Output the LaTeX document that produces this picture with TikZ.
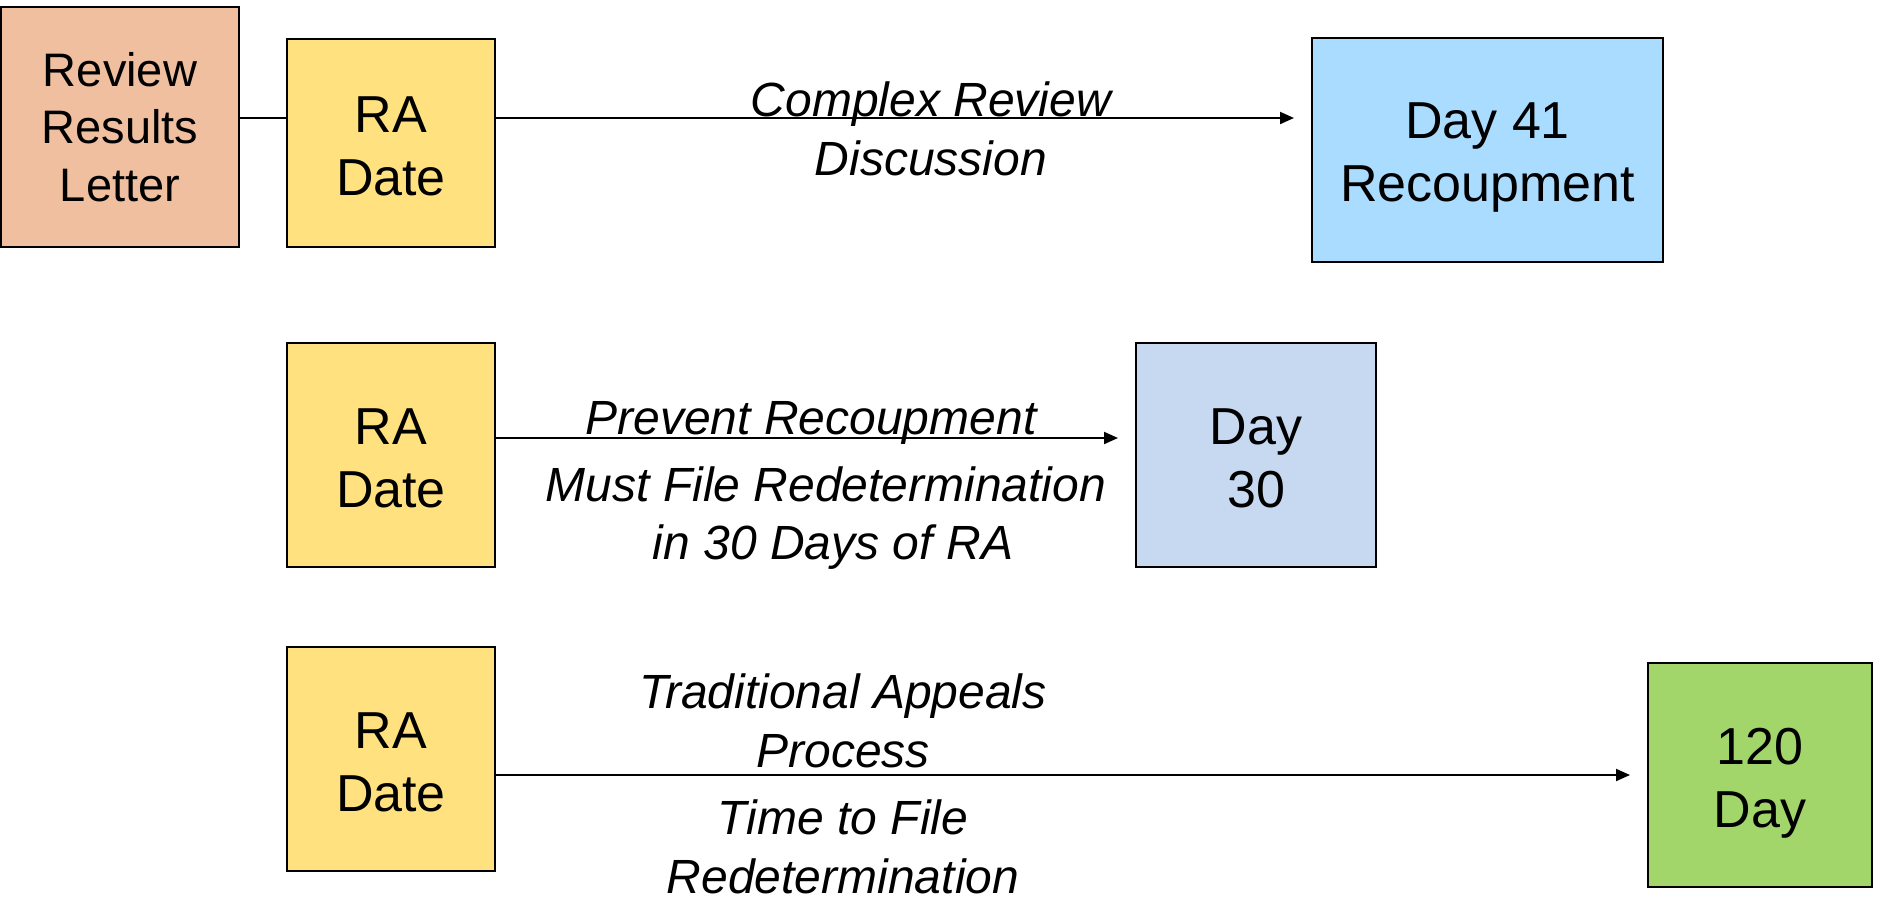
\documentclass[tikz,border=0pt]{standalone}
\usepackage{fontspec}
\setmainfont{Liberation Sans}
\usetikzlibrary{arrows.meta}
\definecolor{peach}{HTML}{F0BF9F}
\definecolor{rayellow}{HTML}{FFE27F}
\definecolor{skyblue}{HTML}{A9DCFF}
\definecolor{greyblue}{HTML}{C6D9F1}
\definecolor{leafgreen}{HTML}{A2D56A}
\newcommand{\dnstrut}[1]{\rule{0pt}{#1pt}}
\begin{document}
\begin{tikzpicture}[x=1pt,y=-1pt,
  box/.style={draw=black, line width=2pt, align=center, inner sep=0pt,
    font=\fontsize{52}{63}\selectfont},
  lbl/.style={align=center, inner sep=0pt, font=\fontsize{48}{58.5}\selectfont\itshape},
  conn/.style={line width=2pt},
  arr/.style={conn, -{Triangle[length=14pt,width=12pt]}, shorten >=17pt}]
\useasboundingbox (0,0) rectangle (1878,897);
\node[box, fill=peach, minimum width=238pt, minimum height=240pt,
  font=\fontsize{47}{57.5}\selectfont] (letter) at (120,127) {Review\\Results\\Letter};
\node[box, fill=rayellow, minimum width=208pt, minimum height=208pt] (ra1) at (391,143) {\dnstrut{43}RA\\Date};
\node[box, fill=rayellow, minimum width=208pt, minimum height=224pt] (ra2) at (391,455) {\dnstrut{43}RA\\Date};
\node[box, fill=rayellow, minimum width=208pt, minimum height=224pt] (ra3) at (391,759) {\dnstrut{43}RA\\Date};
\node[box, fill=skyblue, minimum width=351pt, minimum height=224pt] (d41) at (1487.5,150) {\dnstrut{50}Day 41\\Recoupment};
\node[box, fill=greyblue, minimum width=240pt, minimum height=224pt] (d30) at (1256,455) {\dnstrut{42}Day\\30};
\node[box, fill=leafgreen, minimum width=224pt, minimum height=224pt] (d120) at (1760,775) {\dnstrut{52}120\\Day};
\coordinate (y1) at (0,118);
\coordinate (y2) at (0,438);
\coordinate (y3) at (0,775);
\draw[conn] (letter.east |- y1) -- (ra1.west |- y1);
\draw[arr] (ra1.east |- y1) -- (d41.west |- y1);
\draw[arr] (ra2.east |- y2) -- (d30.west |- y2);
\draw[arr] (ra3.east |- y3) -- (d120.west |- y3);
\node[lbl] (l1) at (931,129) {Complex Review\\Discussion};
\node[lbl] (l2) at (811,423) {Prevent Recoupment};
\node[lbl] (l3) at (826,518) {Must File Redetermination\\\hspace*{14pt}in 30 Days of RA};
\node[lbl] (l4) at (843,721) {Traditional Appeals\\Process};
\node[lbl] (l5) at (843,847) {Time to File\\Redetermination};
\end{tikzpicture}
\end{document}
